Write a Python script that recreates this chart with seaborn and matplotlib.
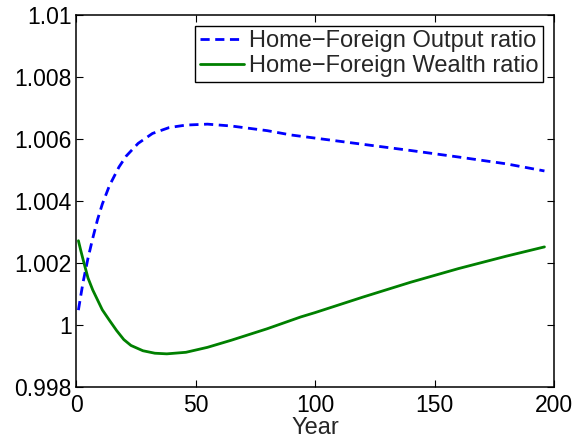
import numpy as np
import pandas as pd
import matplotlib
matplotlib.use("Agg")
import matplotlib.pyplot as plt
import seaborn as sns

# values
years_output = [1, 2, 3, 5, 7, 9, 11, 14, 18, 21, 26, 32, 39, 46, 55, 65,
                80, 90, 100, 120, 140, 160, 180, 196]
output_ratio = [1.00048, 1.00095, 1.0014, 1.00215, 1.0028, 1.0034, 1.0039,
                1.0045, 1.0051, 1.00545, 1.00586, 1.00618, 1.00637, 1.00645,
                1.00648, 1.00642, 1.00627, 1.00613, 1.00603, 1.00583, 1.00563,
                1.00542, 1.00520, 1.00497]

years_wealth = [1, 2, 3, 5, 7, 9, 11, 14, 17, 20, 23, 28, 33, 38, 46, 55,
                65, 80, 94, 100, 120, 140, 160, 180, 196]
wealth_ratio = [1.00272, 1.0024, 1.0021, 1.00152, 1.00113, 1.00081, 1.00049,
                1.00015, 0.99982, 0.99953, 0.99934, 0.99917, 0.99909, 0.99907,
                0.99912, 0.99928, 0.99951, 0.99988, 1.00026, 1.00040, 1.00090,
                1.00138, 1.00182, 1.00222, 1.00252]

label_output = "Home\u2212Foreign Output ratio"
label_wealth = "Home\u2212Foreign Wealth ratio"

x_ticks = [0, 50, 100, 150, 200]
y_ticks = [0.998, 1.0, 1.002, 1.004, 1.006, 1.008, 1.01]

df_out = pd.DataFrame({"Year": years_output, "ratio": output_ratio})
df_wealth = pd.DataFrame({"Year": years_wealth, "ratio": wealth_ratio})

sns.set_style("ticks")
plt.rcParams["font.family"] = ["Liberation Sans", "DejaVu Sans"]

fig = plt.figure(figsize=(5.87, 4.42), dpi=100)
ax = fig.add_axes([0.1295, 0.1244, 0.8143, 0.8416])

sns.lineplot(data=df_out, x="Year", y="ratio", ax=ax, color="#0000ff",
             linewidth=2.0, label=label_output)
ax.lines[-1].set_dashes([3.3, 2.0])
sns.lineplot(data=df_wealth, x="Year", y="ratio", ax=ax, color="#008000",
             linewidth=2.0, label=label_wealth)

ax.set_xlim(0, 200)
ax.set_ylim(0.998, 1.01)
ax.set_xticks(x_ticks)
ax.set_yticks(y_ticks)
ax.set_yticklabels(["%g" % v for v in y_ticks])
ax.set_xlabel("Year", fontsize=17, labelpad=0)
ax.set_ylabel("")

for s in ax.spines.values():
    s.set_visible(True)
    s.set_color("black")
    s.set_linewidth(1.1)
ax.tick_params(direction="in", length=5, width=0.8, labelsize=16.5,
               top=True, right=True, colors="black")
ax.tick_params(axis="x", pad=5)
ax.tick_params(axis="y", pad=3)

leg = ax.legend(loc="upper right", fontsize=17, frameon=True, fancybox=False,
                edgecolor="black", framealpha=1, handlelength=1.9,
                handletextpad=0.2, borderpad=0.2, labelspacing=0.12,
                borderaxespad=0.45)
leg.get_frame().set_linewidth(1.0)

fig.savefig("out.png", dpi=100)
